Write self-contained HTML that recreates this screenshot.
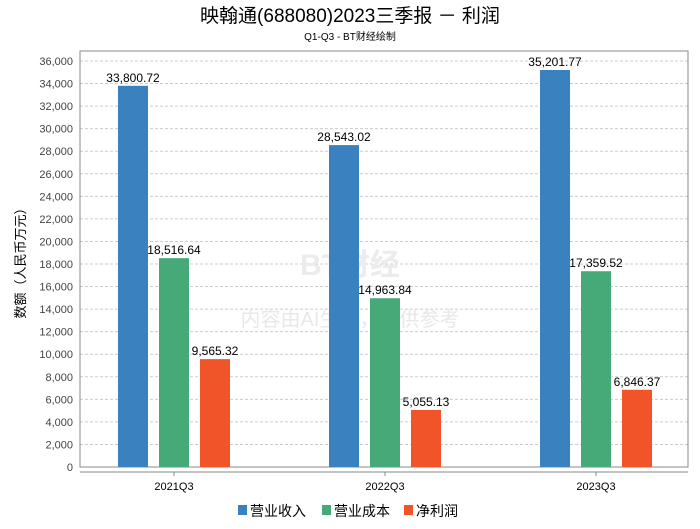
<!DOCTYPE html>
<html><head><meta charset="utf-8"><style>
body{margin:0;background:#fff;font-family:"Liberation Sans","Noto Sans CJK SC",sans-serif;}
svg text{font-family:"Liberation Sans","Noto Sans CJK SC",sans-serif;}
</style></head><body>
<svg id="c" width="700" height="524" xmlns="http://www.w3.org/2000/svg">
<text x="350" y="22" text-anchor="middle" font-size="19" fill="#000">映翰通(688080)2023三季报 － 利润</text>
<text x="350" y="40" text-anchor="middle" font-size="10" fill="#000">Q1-Q3 - BT财经绘制</text>
<g id="grid"></g>
<rect x="80" y="51" width="608" height="416" fill="none" stroke="#888"/>
<line x1="80" y1="472" x2="688" y2="472" stroke="#888"/>
<text font-size="13" fill="#000" transform="rotate(-90 20 260)"><tspan x="20" y="265" text-anchor="middle">数额（人民币万元）</tspan></text>
<text x="350" y="275" text-anchor="middle" font-size="30" font-weight="bold" fill="#ececec">BT财经</text>
<text x="350" y="326" text-anchor="middle" font-size="20" fill="#e8e8e8">内容由AI生成，仅供参考</text>
<g id="bars"></g>
<g>
<rect x="238" y="505" width="9" height="10" fill="#3a81c0"/>
<text x="250" y="516" font-size="14">营业收入</text>
<rect x="322" y="505" width="9" height="10" fill="#46aa78"/>
<text x="334" y="516" font-size="14">营业成本</text>
<rect x="404" y="505" width="9" height="10" fill="#f05428"/>
<text x="416" y="516" font-size="14">净利润</text>
</g>
</svg>
<script>
const categories=["2021Q3","2022Q3","2023Q3"];
const revenue=[33800.72,28543.02,35201.77];
const cost=[18516.64,14963.84,17359.52];
const profit=[9565.32,5055.13,6846.37];
const yTicks=[0,2000,4000,6000,8000,10000,12000,14000,16000,18000,20000,22000,24000,26000,28000,30000,32000,34000,36000];
const NS="http://www.w3.org/2000/svg";
const svg=document.getElementById('c');
const grid=document.getElementById('grid');
const barsG=document.getElementById('bars');
const y=v=>467-v*406/36000;
const gx=i=>174+211*i;
function mk(t,a,p){const e=document.createElementNS(NS,t);for(const k in a)e.setAttribute(k,a[k]);(p||svg).appendChild(e);return e;}
const fmt=v=>v.toLocaleString('en-US',{minimumFractionDigits:2,maximumFractionDigits:2});
yTicks.forEach(t=>{
 const l=mk('line',{x1:80,x2:688,y1:y(t),y2:y(t),stroke:'#ccc','stroke-dasharray':'3,2'},grid);
 
 
 const tx=mk('text',{x:73,y:y(t)+4,'text-anchor':'end','font-size':11,fill:'#444'});
 tx.textContent=t.toLocaleString('en-US');
 
 
});
const series=[[revenue,'#3a81c0',-41,'revenue'],[cost,'#46aa78',0,'cost'],[profit,'#f05428',41,'profit']];
categories.forEach((c,i)=>{
 const cx=gx(i);
 const tk=mk('line',{x1:cx,x2:cx,y1:472,y2:476,stroke:'#888'});
 
 
 const lb=mk('text',{x:cx,y:490,'text-anchor':'middle','font-size':11,fill:'#000'});
 lb.textContent=c;
 
 
 series.forEach(s=>{
  const v=s[0][i];
  const bx=cx+s[2]-15;
  const r=mk('rect',{x:bx,y:y(v),width:30,height:467-y(v),fill:s[1]},barsG);
  
  
  const t=mk('text',{x:bx+15,y:y(v)-4,'text-anchor':'middle','font-size':12,fill:'#000'},barsG);
  t.textContent=fmt(v);
  
  
 });
});
</script>
</body></html>
